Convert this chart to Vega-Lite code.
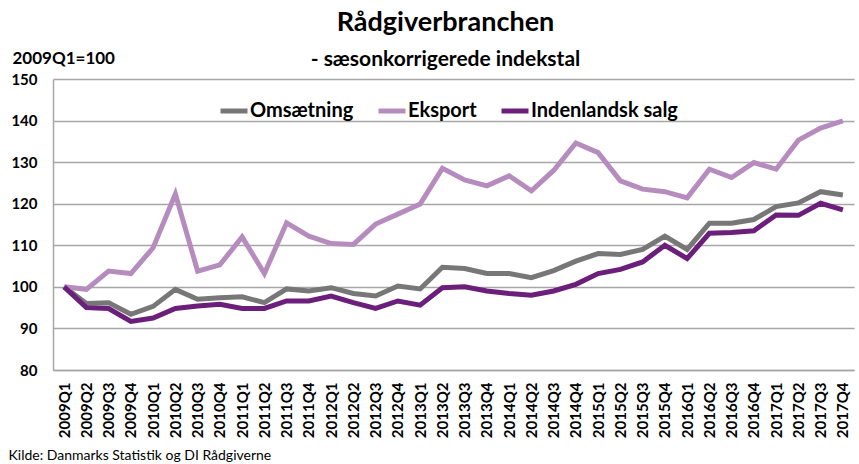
{
  "$schema": "https://vega.github.io/schema/vega-lite/v6.json",
  "autosize": {"type": "none"},
  "width": 801,
  "height": 291,
  "padding": {"left": 53, "top": 79, "right": 5, "bottom": 94},
  "background": "white",
  "config": {
    "font": "Lato",
    "view": {"stroke": null}
  },
  "title": {
    "text": "Rådgiverbranchen",
    "subtitle": "- sæsonkorrigerede indekstal",
    "anchor": "middle",
    "frame": "group",
    "dx": -8,
    "dy": 32,
    "offset": 10,
    "font": "Lato",
    "fontSize": 27,
    "fontWeight": "bold",
    "color": "#000000",
    "subtitleFont": "Lato",
    "subtitleFontSize": 21,
    "subtitleFontWeight": "bold",
    "subtitleColor": "#000000",
    "subtitlePadding": 12
  },
  "data": {
    "values": [
      {"kvartal": "2009Q1", "serie": "Omsætning", "indeks": 100},
      {"kvartal": "2009Q2", "serie": "Omsætning", "indeks": 96.0},
      {"kvartal": "2009Q3", "serie": "Omsætning", "indeks": 96.2},
      {"kvartal": "2009Q4", "serie": "Omsætning", "indeks": 93.4},
      {"kvartal": "2010Q1", "serie": "Omsætning", "indeks": 95.3},
      {"kvartal": "2010Q2", "serie": "Omsætning", "indeks": 99.4},
      {"kvartal": "2010Q3", "serie": "Omsætning", "indeks": 97.0},
      {"kvartal": "2010Q4", "serie": "Omsætning", "indeks": 97.4},
      {"kvartal": "2011Q1", "serie": "Omsætning", "indeks": 97.6},
      {"kvartal": "2011Q2", "serie": "Omsætning", "indeks": 96.2},
      {"kvartal": "2011Q3", "serie": "Omsætning", "indeks": 99.5},
      {"kvartal": "2011Q4", "serie": "Omsætning", "indeks": 99.0},
      {"kvartal": "2012Q1", "serie": "Omsætning", "indeks": 99.8},
      {"kvartal": "2012Q2", "serie": "Omsætning", "indeks": 98.4},
      {"kvartal": "2012Q3", "serie": "Omsætning", "indeks": 97.8},
      {"kvartal": "2012Q4", "serie": "Omsætning", "indeks": 100.2},
      {"kvartal": "2013Q1", "serie": "Omsætning", "indeks": 99.5},
      {"kvartal": "2013Q2", "serie": "Omsætning", "indeks": 104.7},
      {"kvartal": "2013Q3", "serie": "Omsætning", "indeks": 104.4},
      {"kvartal": "2013Q4", "serie": "Omsætning", "indeks": 103.2},
      {"kvartal": "2014Q1", "serie": "Omsætning", "indeks": 103.2},
      {"kvartal": "2014Q2", "serie": "Omsætning", "indeks": 102.2},
      {"kvartal": "2014Q3", "serie": "Omsætning", "indeks": 103.9},
      {"kvartal": "2014Q4", "serie": "Omsætning", "indeks": 106.2},
      {"kvartal": "2015Q1", "serie": "Omsætning", "indeks": 108.0},
      {"kvartal": "2015Q2", "serie": "Omsætning", "indeks": 107.8},
      {"kvartal": "2015Q3", "serie": "Omsætning", "indeks": 109.0},
      {"kvartal": "2015Q4", "serie": "Omsætning", "indeks": 112.2},
      {"kvartal": "2016Q1", "serie": "Omsætning", "indeks": 109.0},
      {"kvartal": "2016Q2", "serie": "Omsætning", "indeks": 115.3},
      {"kvartal": "2016Q3", "serie": "Omsætning", "indeks": 115.3},
      {"kvartal": "2016Q4", "serie": "Omsætning", "indeks": 116.2},
      {"kvartal": "2017Q1", "serie": "Omsætning", "indeks": 119.3},
      {"kvartal": "2017Q2", "serie": "Omsætning", "indeks": 120.2},
      {"kvartal": "2017Q3", "serie": "Omsætning", "indeks": 122.9},
      {"kvartal": "2017Q4", "serie": "Omsætning", "indeks": 122.1},
      {"kvartal": "2009Q1", "serie": "Eksport", "indeks": 100},
      {"kvartal": "2009Q2", "serie": "Eksport", "indeks": 99.4},
      {"kvartal": "2009Q3", "serie": "Eksport", "indeks": 103.8},
      {"kvartal": "2009Q4", "serie": "Eksport", "indeks": 103.2},
      {"kvartal": "2010Q1", "serie": "Eksport", "indeks": 109.4},
      {"kvartal": "2010Q2", "serie": "Eksport", "indeks": 122.3},
      {"kvartal": "2010Q3", "serie": "Eksport", "indeks": 103.8},
      {"kvartal": "2010Q4", "serie": "Eksport", "indeks": 105.3},
      {"kvartal": "2011Q1", "serie": "Eksport", "indeks": 112.0},
      {"kvartal": "2011Q2", "serie": "Eksport", "indeks": 103.2},
      {"kvartal": "2011Q3", "serie": "Eksport", "indeks": 115.4},
      {"kvartal": "2011Q4", "serie": "Eksport", "indeks": 112.2},
      {"kvartal": "2012Q1", "serie": "Eksport", "indeks": 110.4},
      {"kvartal": "2012Q2", "serie": "Eksport", "indeks": 110.2},
      {"kvartal": "2012Q3", "serie": "Eksport", "indeks": 115.1},
      {"kvartal": "2012Q4", "serie": "Eksport", "indeks": 117.5},
      {"kvartal": "2013Q1", "serie": "Eksport", "indeks": 119.9},
      {"kvartal": "2013Q2", "serie": "Eksport", "indeks": 128.5},
      {"kvartal": "2013Q3", "serie": "Eksport", "indeks": 125.7},
      {"kvartal": "2013Q4", "serie": "Eksport", "indeks": 124.3},
      {"kvartal": "2014Q1", "serie": "Eksport", "indeks": 126.7},
      {"kvartal": "2014Q2", "serie": "Eksport", "indeks": 123.1},
      {"kvartal": "2014Q3", "serie": "Eksport", "indeks": 128.0},
      {"kvartal": "2014Q4", "serie": "Eksport", "indeks": 134.6},
      {"kvartal": "2015Q1", "serie": "Eksport", "indeks": 132.3},
      {"kvartal": "2015Q2", "serie": "Eksport", "indeks": 125.5},
      {"kvartal": "2015Q3", "serie": "Eksport", "indeks": 123.5},
      {"kvartal": "2015Q4", "serie": "Eksport", "indeks": 122.9},
      {"kvartal": "2016Q1", "serie": "Eksport", "indeks": 121.4},
      {"kvartal": "2016Q2", "serie": "Eksport", "indeks": 128.3},
      {"kvartal": "2016Q3", "serie": "Eksport", "indeks": 126.3},
      {"kvartal": "2016Q4", "serie": "Eksport", "indeks": 129.9},
      {"kvartal": "2017Q1", "serie": "Eksport", "indeks": 128.3},
      {"kvartal": "2017Q2", "serie": "Eksport", "indeks": 135.3},
      {"kvartal": "2017Q3", "serie": "Eksport", "indeks": 138.2},
      {"kvartal": "2017Q4", "serie": "Eksport", "indeks": 139.9},
      {"kvartal": "2009Q1", "serie": "Indenlandsk salg", "indeks": 100},
      {"kvartal": "2009Q2", "serie": "Indenlandsk salg", "indeks": 95.0},
      {"kvartal": "2009Q3", "serie": "Indenlandsk salg", "indeks": 94.8},
      {"kvartal": "2009Q4", "serie": "Indenlandsk salg", "indeks": 91.7},
      {"kvartal": "2010Q1", "serie": "Indenlandsk salg", "indeks": 92.5},
      {"kvartal": "2010Q2", "serie": "Indenlandsk salg", "indeks": 94.8},
      {"kvartal": "2010Q3", "serie": "Indenlandsk salg", "indeks": 95.4},
      {"kvartal": "2010Q4", "serie": "Indenlandsk salg", "indeks": 95.8},
      {"kvartal": "2011Q1", "serie": "Indenlandsk salg", "indeks": 94.8},
      {"kvartal": "2011Q2", "serie": "Indenlandsk salg", "indeks": 94.8},
      {"kvartal": "2011Q3", "serie": "Indenlandsk salg", "indeks": 96.6},
      {"kvartal": "2011Q4", "serie": "Indenlandsk salg", "indeks": 96.6},
      {"kvartal": "2012Q1", "serie": "Indenlandsk salg", "indeks": 97.8},
      {"kvartal": "2012Q2", "serie": "Indenlandsk salg", "indeks": 96.2},
      {"kvartal": "2012Q3", "serie": "Indenlandsk salg", "indeks": 94.8},
      {"kvartal": "2012Q4", "serie": "Indenlandsk salg", "indeks": 96.6},
      {"kvartal": "2013Q1", "serie": "Indenlandsk salg", "indeks": 95.6},
      {"kvartal": "2013Q2", "serie": "Indenlandsk salg", "indeks": 99.8},
      {"kvartal": "2013Q3", "serie": "Indenlandsk salg", "indeks": 100.0},
      {"kvartal": "2013Q4", "serie": "Indenlandsk salg", "indeks": 99.0},
      {"kvartal": "2014Q1", "serie": "Indenlandsk salg", "indeks": 98.4},
      {"kvartal": "2014Q2", "serie": "Indenlandsk salg", "indeks": 98.0},
      {"kvartal": "2014Q3", "serie": "Indenlandsk salg", "indeks": 99.0},
      {"kvartal": "2014Q4", "serie": "Indenlandsk salg", "indeks": 100.6},
      {"kvartal": "2015Q1", "serie": "Indenlandsk salg", "indeks": 103.2},
      {"kvartal": "2015Q2", "serie": "Indenlandsk salg", "indeks": 104.2},
      {"kvartal": "2015Q3", "serie": "Indenlandsk salg", "indeks": 106.0},
      {"kvartal": "2015Q4", "serie": "Indenlandsk salg", "indeks": 110.0},
      {"kvartal": "2016Q1", "serie": "Indenlandsk salg", "indeks": 106.8},
      {"kvartal": "2016Q2", "serie": "Indenlandsk salg", "indeks": 112.9},
      {"kvartal": "2016Q3", "serie": "Indenlandsk salg", "indeks": 113.1},
      {"kvartal": "2016Q4", "serie": "Indenlandsk salg", "indeks": 113.5},
      {"kvartal": "2017Q1", "serie": "Indenlandsk salg", "indeks": 117.3},
      {"kvartal": "2017Q2", "serie": "Indenlandsk salg", "indeks": 117.2},
      {"kvartal": "2017Q3", "serie": "Indenlandsk salg", "indeks": 120.1},
      {"kvartal": "2017Q4", "serie": "Indenlandsk salg", "indeks": 118.5}
    ]
  },
  "mark": {"type": "line", "strokeWidth": 5},
  "encoding": {
    "x": {
      "field": "kvartal",
      "type": "ordinal",
      "sort": null,
      "scale": {"type": "point", "padding": 0.5},
      "axis": {
        "title": "Kilde: Danmarks Statistik og DI Rådgiverne",
        "titleFont": "Lato",
        "titleFontSize": 14,
        "titleFontWeight": "normal",
        "titleColor": "#000000",
        "titleAlign": "left",
        "titleBaseline": "middle",
        "titleAnchor": "start",
        "titleX": -45,
        "titleY": 85,
        "labelAngle": -90,
        "labelAlign": "right",
        "labelBaseline": "middle",
        "labelFont": "Lato",
        "labelFontSize": 15,
        "labelFontWeight": "bold",
        "labelColor": "#000000",
        "labelPadding": 12,
        "labelOverlap": false,
        "ticks": false,
        "grid": false,
        "domainColor": "#a6a6a6",
        "domainWidth": 1.5
      }
    },
    "y": {
      "field": "indeks",
      "type": "quantitative",
      "scale": {"domain": [80, 150], "nice": false, "zero": false},
      "axis": {
        "values": [80, 90, 100, 110, 120, 130, 140, 150],
        "title": "2009Q1=100",
        "titleFont": "Lato",
        "titleFontSize": 17,
        "titleFontWeight": "bold",
        "titleColor": "#000000",
        "titleAngle": 0,
        "titleAlign": "left",
        "titleBaseline": "middle",
        "titleX": -41,
        "titleY": -21,
        "labelFont": "Lato",
        "labelFontSize": 15,
        "labelFontWeight": "bold",
        "labelColor": "#000000",
        "labelPadding": 16,
        "ticks": false,
        "grid": true,
        "gridColor": "#a6a6a6",
        "gridWidth": 1.5,
        "domainColor": "#a6a6a6",
        "domainWidth": 1.5
      }
    },
    "color": {
      "field": "serie",
      "type": "nominal",
      "scale": {
        "domain": ["Omsætning", "Eksport", "Indenlandsk salg"],
        "range": ["#777777", "#b68cbf", "#6b1f7b"]
      },
      "legend": {
        "title": null,
        "orient": "none",
        "direction": "horizontal",
        "legendX": 165,
        "legendY": 16,
        "symbolType": "stroke",
        "symbolSize": 729,
        "symbolStrokeWidth": 5,
        "labelFont": "Lato",
        "labelFontSize": 20,
        "labelFontWeight": "bold",
        "labelColor": "#000000",
        "labelOffset": 0,
        "columnPadding": 14
      }
    }
  }
}
